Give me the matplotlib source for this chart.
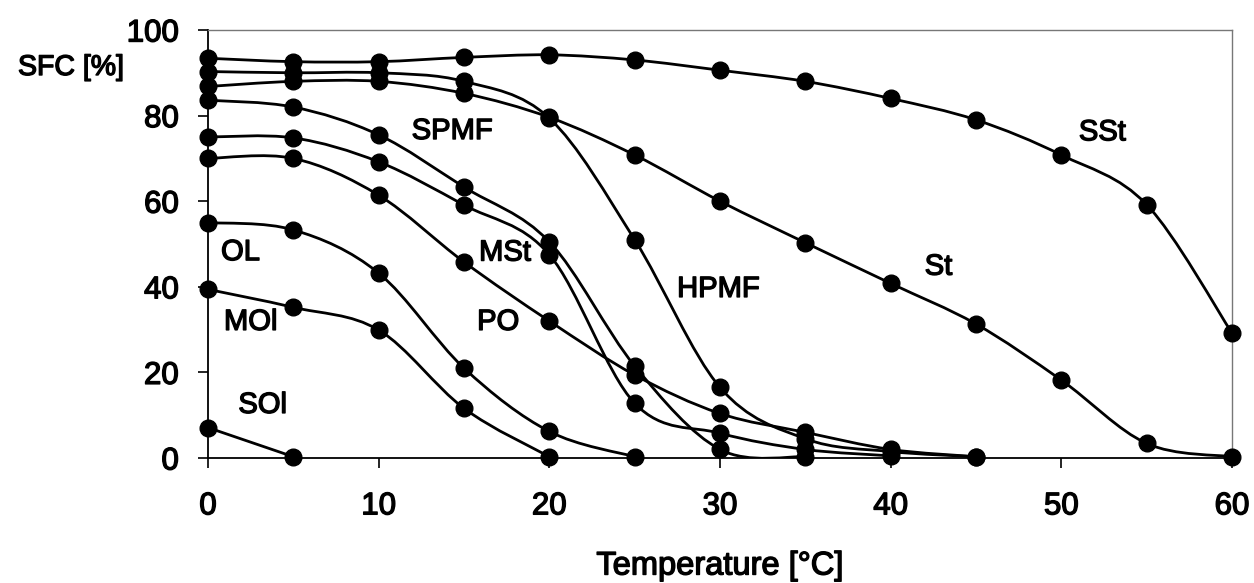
import numpy as np
import matplotlib
matplotlib.use("Agg")
import matplotlib.pyplot as plt
from matplotlib.path import Path
from matplotlib.patches import PathPatch
import matplotlib.patheffects as pe

plt.rcParams['font.family'] = ['Liberation Sans', 'DejaVu Sans']

temps = [0, 5, 10, 15, 20, 25, 30, 35, 40, 45, 50, 55, 60]

SSt = [93.4, 92.6, 92.6, 93.6, 94.2, 93.0, 90.6, 88.0, 84.0, 79.0, 70.8, 59.2, 29.2]
St = [86.8, 88.0, 88.0, 85.2, 79.6, 70.8, 60.0, 50.3, 40.8, 31.3, 18.2, 3.4, 0.3]
HPMF = [90.3, 90.0, 90.0, 88.0, 79.4, 51.0, 16.5, 4.5, 1.5, 0.3]
SPMF = [83.6, 82.0, 75.5, 63.3, 50.5, 21.5, 2.0, 0.3]
MSt = [75.0, 74.8, 69.2, 59.1, 47.5, 12.8, 5.8, 2.0, 0.5]
PO = [70.0, 70.0, 61.4, 45.8, 32.0, 19.4, 10.4, 6.0, 2.0, 0.3]
OL = [55.0, 53.3, 43.2, 21.0, 6.2, 0.3]
MOl = [39.4, 35.2, 29.9, 11.6, 0.3]
SOl = [7.1, 0.3]

series = {"SSt": SSt, "St": St, "HPMF": HPMF, "SPMF": SPMF, "MSt": MSt,
          "PO": PO, "OL": OL, "MOl": MOl, "SOl": SOl}

labels = {"SPMF": (14.3, 76.4), "MSt": (17.4, 48.0), "HPMF": (29.9, 39.5),
          "PO": (17.0, 31.8), "OL": (1.9, 48.1), "MOl": (2.5, 31.8),
          "SOl": (3.2, 12.4), "St": (42.8, 44.7), "SSt": (52.4, 76.1)}

W, H = 1254, 583
fig = plt.figure(figsize=(W / 100, H / 100), dpi=100)
ax = fig.add_axes([208 / W, (H - 458) / H, (1232 - 208) / W, (458 - 30) / H])

thick = [pe.withStroke(linewidth=1.0, foreground='black')]


def smooth_path(xs, ys):
    pts = np.column_stack([xs, ys]).astype(float)
    n = len(pts)
    verts = [pts[0]]
    codes = [Path.MOVETO]
    for i in range(n - 1):
        p0 = pts[i - 1] if i > 0 else pts[i]
        p1 = pts[i]
        p2 = pts[i + 1]
        p3 = pts[i + 2] if i + 2 < n else pts[i + 1]
        c1 = p1 + (p2 - p0) / 6.0
        c2 = p2 - (p3 - p1) / 6.0
        verts += [c1, c2, p2]
        codes += [Path.CURVE4] * 3
    return Path(verts, codes)


for name, vals in series.items():
    xs = temps[:len(vals)]
    patch = PathPatch(smooth_path(xs, vals), facecolor='none', edgecolor='black',
                      lw=2.0, zorder=2)
    ax.add_patch(patch)
    ax.plot(xs, vals, linestyle='none', marker='o', color='black',
            markersize=12, zorder=3, clip_on=False)

for name, (lx, ly) in labels.items():
    ax.text(lx, ly, name, fontsize=21, ha='center', va='center', zorder=4,
            path_effects=thick)

ax.set_xlim(0, 60)
ax.set_ylim(0, 100)
ax.set_xticks(range(0, 61, 10))
ax.set_yticks(range(0, 101, 20))
ax.tick_params(axis='both', direction='out', length=7, width=1.2,
               labelsize=22.5, colors='black')
ax.tick_params(axis='x', pad=17)
ax.tick_params(axis='y', pad=14)
for lab in ax.get_xticklabels() + ax.get_yticklabels():
    lab.set_path_effects(thick)

for s in ['left', 'bottom']:
    ax.spines[s].set_color('black')
    ax.spines[s].set_linewidth(1.3)
for s in ['top', 'right']:
    ax.spines[s].set_color('#777777')
    ax.spines[s].set_linewidth(1.0)

xl = ax.set_xlabel("Temperature [°C]", fontsize=23.5, labelpad=21)
xl.set_path_effects(thick)
t = fig.text(18 / W, 1 - 68 / H, "SFC [%]", fontsize=20.5, ha='left', va='center')
t.set_path_effects(thick)

fig.savefig("out.png", dpi=100)
